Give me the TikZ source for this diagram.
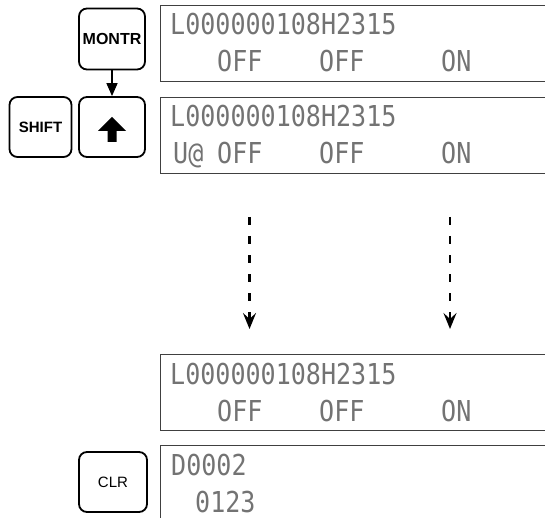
\documentclass[tikz,border=0pt]{standalone}
\usepackage{fontspec}
\setmainfont{Liberation Sans}
\newfontfamily\lcdfont[FakeStretch=0.87]{DejaVu Sans Mono}
\usetikzlibrary{arrows.meta,calc}
\tikzset{
  >={Triangle[length=13pt,width=11pt]},
  key/.style={draw,rounded corners=8pt,line width=1.8pt,minimum width=66pt,minimum height=61pt,inner sep=0pt},
  lcd/.style={draw=black!75,line width=1pt,anchor=north west,minimum width=420pt,minimum height=76pt,inner sep=0pt},
  txt/.style={anchor=base west,inner sep=0pt,text=black!55,font=\lcdfont\fontsize{28.8}{30}\selectfont},
  dashline/.style={line width=2.6pt,dash pattern=on 8pt off 11pt,-{Stealth[length=16pt,width=13pt,inset=6pt]}},
}
\begin{document}
\begin{tikzpicture}[x=1pt,y=-1pt]
\clip (0,0) rectangle (545,518);
\node[lcd] (d1) at (160,5){}; \node[lcd] (d2) at (160,97){}; \node[lcd] (d3) at (160,354){}; \node[lcd] (d4) at (160,445){};
% keys
\node[key,font=\bfseries\fontsize{16}{18}\selectfont] (montr) at (112,39){MONTR};
\node[key,minimum height=60pt] (up) at (112,127){};
\node[key,minimum width=62pt,minimum height=60pt,font=\bfseries\fontsize{15}{17}\selectfont] (shift) at (40.5,127){SHIFT};
\node[key,minimum width=68pt,minimum height=60pt,font=\fontsize{15}{17}\selectfont] (clr) at (113,482){CLR};
\draw[->,line width=1.5pt] (montr) -- (up);
\fill[shift={(up)}] (0,-10) -- (14,4) -- (4.5,4) -- (4.5,15) -- (-4.5,15) -- (-4.5,4) -- (-14,4) -- cycle;
% display texts
\node[txt] (t1a) at ($(d1.north west)+(10,30)$){L000000108H2315};
\node[txt] (t1b) at ($(d1.north west)+(57,67)$){OFF}; \node[txt] (t1c) at ($(d1.north west)+(159,67)$){OFF}; \node[txt] (t1d) at ($(d1.north west)+(281,67)$){ON};
\node[txt] (t2a) at ($(d2.north west)+(10,30)$){L000000108H2315};
\node[txt] (t2b) at ($(d2.north west)+(13,67)$){U@}; \node[txt] (t2c) at ($(d2.north west)+(57,67)$){OFF};
\node[txt] (t2d) at ($(d2.north west)+(159,67)$){OFF}; \node[txt] (t2e) at ($(d2.north west)+(281,67)$){ON};
\node[txt] (t3a) at ($(d3.north west)+(10,30)$){L000000108H2315};
\node[txt] (t3b) at ($(d3.north west)+(57,67)$){OFF}; \node[txt] (t3c) at ($(d3.north west)+(159,67)$){OFF}; \node[txt] (t3d) at ($(d3.north west)+(281,67)$){ON};
\node[txt] (t4a) at ($(d4.north west)+(11,30)$){D0002}; \node[txt] (t4b) at ($(d4.north west)+(35,67)$){0123};
% dotted arrows
\coordinate (a1s) at (249.5,217); \coordinate (a1e) at (249.5,329);
\coordinate (a2s) at (450,217); \coordinate (a2e) at (450,329);
\draw[dashline] (a1s) -- (a1e); \draw[dashline] (a2s) -- (a2e);
\end{tikzpicture}
\end{document}
